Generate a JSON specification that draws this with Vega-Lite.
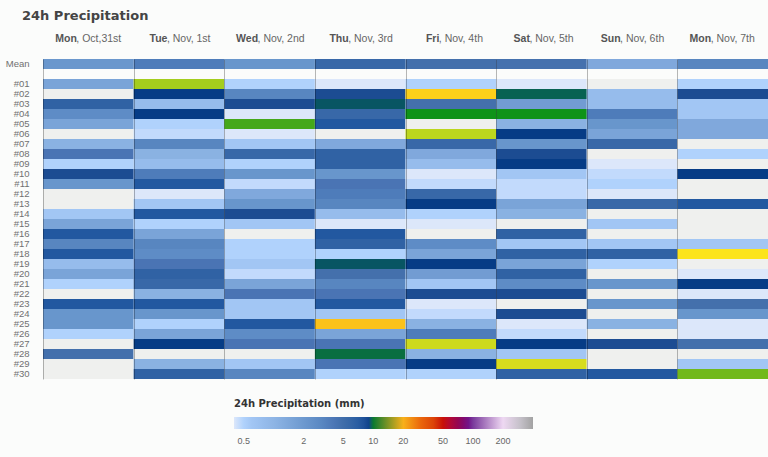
{
"$schema": "https://vega.github.io/schema/vega-lite/v6.json",
"width": 725, "height": 320,
"autosize": {"type": "none"},
"padding": {"left": 43, "top": 59, "right": 0, "bottom": 78},
"background": "#fbfcfb",
"title": {"text": "24h Precipitation", "anchor": "start", "frame": "group", "dx": -21, "font": "DejaVu Sans", "fontSize": 13, "fontWeight": "bold", "color": "#444444", "offset": 10},
"datasets": {"cells": [
{"day":"Mon, Oct,31st","row":"Mean","mm":2.1},{"day":"Tue, Nov, 1st","row":"Mean","mm":3.7},{"day":"Wed, Nov, 2nd","row":"Mean","mm":2.2},{"day":"Thu, Nov, 3rd","row":"Mean","mm":5.5},{"day":"Fri, Nov, 4th","row":"Mean","mm":4.7},{"day":"Sat, Nov, 5th","row":"Mean","mm":4.6},{"day":"Sun, Nov, 6th","row":"Mean","mm":1.3},{"day":"Mon, Nov, 7th","row":"Mean","mm":3.2},
{"day":"Mon, Oct,31st","row":"#01","mm":1.6},{"day":"Tue, Nov, 1st","row":"#01","mm":14.5},{"day":"Wed, Nov, 2nd","row":"#01","mm":0.5},{"day":"Thu, Nov, 3rd","row":"#01","mm":0.4},{"day":"Fri, Nov, 4th","row":"#01","mm":0.5},{"day":"Sat, Nov, 5th","row":"#01","mm":0.4},{"day":"Sun, Nov, 6th","row":"#01","mm":0},{"day":"Mon, Nov, 7th","row":"#01","mm":0.5},
{"day":"Mon, Oct,31st","row":"#02","mm":0},{"day":"Tue, Nov, 1st","row":"#02","mm":9.5},{"day":"Wed, Nov, 2nd","row":"#02","mm":3.2},{"day":"Thu, Nov, 3rd","row":"#02","mm":8.5},{"day":"Fri, Nov, 4th","row":"#02","mm":18.5},{"day":"Sat, Nov, 5th","row":"#02","mm":9.8},{"day":"Sun, Nov, 6th","row":"#02","mm":0.8},{"day":"Mon, Nov, 7th","row":"#02","mm":8.5},
{"day":"Mon, Oct,31st","row":"#03","mm":6.5},{"day":"Tue, Nov, 1st","row":"#03","mm":0.8},{"day":"Wed, Nov, 2nd","row":"#03","mm":8.5},{"day":"Thu, Nov, 3rd","row":"#03","mm":9.7},{"day":"Fri, Nov, 4th","row":"#03","mm":4.7},{"day":"Sat, Nov, 5th","row":"#03","mm":1.8},{"day":"Sun, Nov, 6th","row":"#03","mm":0.8},{"day":"Mon, Nov, 7th","row":"#03","mm":0.6},
{"day":"Mon, Oct,31st","row":"#04","mm":2.7},{"day":"Tue, Nov, 1st","row":"#04","mm":9.5},{"day":"Wed, Nov, 2nd","row":"#04","mm":0.4},{"day":"Thu, Nov, 3rd","row":"#04","mm":5.5},{"day":"Fri, Nov, 4th","row":"#04","mm":11},{"day":"Sat, Nov, 5th","row":"#04","mm":11},{"day":"Sun, Nov, 6th","row":"#04","mm":3.7},{"day":"Mon, Nov, 7th","row":"#04","mm":0.6},
{"day":"Mon, Oct,31st","row":"#05","mm":1.6},{"day":"Tue, Nov, 1st","row":"#05","mm":0.5},{"day":"Wed, Nov, 2nd","row":"#05","mm":12.5},{"day":"Thu, Nov, 3rd","row":"#05","mm":7.5},{"day":"Fri, Nov, 4th","row":"#05","mm":0},{"day":"Sat, Nov, 5th","row":"#05","mm":1.1},{"day":"Sun, Nov, 6th","row":"#05","mm":2.2},{"day":"Mon, Nov, 7th","row":"#05","mm":1.3},
{"day":"Mon, Oct,31st","row":"#06","mm":0},{"day":"Tue, Nov, 1st","row":"#06","mm":0.45},{"day":"Wed, Nov, 2nd","row":"#06","mm":0.4},{"day":"Thu, Nov, 3rd","row":"#06","mm":0},{"day":"Fri, Nov, 4th","row":"#06","mm":15},{"day":"Sat, Nov, 5th","row":"#06","mm":9.5},{"day":"Sun, Nov, 6th","row":"#06","mm":1.6},{"day":"Mon, Nov, 7th","row":"#06","mm":1.3},
{"day":"Mon, Oct,31st","row":"#07","mm":1.1},{"day":"Tue, Nov, 1st","row":"#07","mm":3.2},{"day":"Wed, Nov, 2nd","row":"#07","mm":0.6},{"day":"Thu, Nov, 3rd","row":"#07","mm":1.3},{"day":"Fri, Nov, 4th","row":"#07","mm":5.5},{"day":"Sat, Nov, 5th","row":"#07","mm":2.2},{"day":"Sun, Nov, 6th","row":"#07","mm":5.5},{"day":"Mon, Nov, 7th","row":"#07","mm":0},
{"day":"Mon, Oct,31st","row":"#08","mm":4.2},{"day":"Tue, Nov, 1st","row":"#08","mm":1.1},{"day":"Wed, Nov, 2nd","row":"#08","mm":5.5},{"day":"Thu, Nov, 3rd","row":"#08","mm":6.5},{"day":"Fri, Nov, 4th","row":"#08","mm":1.3},{"day":"Sat, Nov, 5th","row":"#08","mm":8.5},{"day":"Sun, Nov, 6th","row":"#08","mm":0},{"day":"Mon, Nov, 7th","row":"#08","mm":0.5},
{"day":"Mon, Oct,31st","row":"#09","mm":0.5},{"day":"Tue, Nov, 1st","row":"#09","mm":0.8},{"day":"Wed, Nov, 2nd","row":"#09","mm":0.5},{"day":"Thu, Nov, 3rd","row":"#09","mm":6.5},{"day":"Fri, Nov, 4th","row":"#09","mm":0.8},{"day":"Sat, Nov, 5th","row":"#09","mm":9.5},{"day":"Sun, Nov, 6th","row":"#09","mm":0.4},{"day":"Mon, Nov, 7th","row":"#09","mm":0},
{"day":"Mon, Oct,31st","row":"#10","mm":8.5},{"day":"Tue, Nov, 1st","row":"#10","mm":3.7},{"day":"Wed, Nov, 2nd","row":"#10","mm":2.2},{"day":"Thu, Nov, 3rd","row":"#10","mm":2.2},{"day":"Fri, Nov, 4th","row":"#10","mm":0.4},{"day":"Sat, Nov, 5th","row":"#10","mm":0.6},{"day":"Sun, Nov, 6th","row":"#10","mm":0.45},{"day":"Mon, Nov, 7th","row":"#10","mm":9.5},
{"day":"Mon, Oct,31st","row":"#11","mm":2.2},{"day":"Tue, Nov, 1st","row":"#11","mm":7.5},{"day":"Wed, Nov, 2nd","row":"#11","mm":0.45},{"day":"Thu, Nov, 3rd","row":"#11","mm":4.2},{"day":"Fri, Nov, 4th","row":"#11","mm":0.45},{"day":"Sat, Nov, 5th","row":"#11","mm":0.45},{"day":"Sun, Nov, 6th","row":"#11","mm":0.5},{"day":"Mon, Nov, 7th","row":"#11","mm":0},
{"day":"Mon, Oct,31st","row":"#12","mm":0},{"day":"Tue, Nov, 1st","row":"#12","mm":0.4},{"day":"Wed, Nov, 2nd","row":"#12","mm":1.3},{"day":"Thu, Nov, 3rd","row":"#12","mm":3.7},{"day":"Fri, Nov, 4th","row":"#12","mm":5.5},{"day":"Sat, Nov, 5th","row":"#12","mm":0.45},{"day":"Sun, Nov, 6th","row":"#12","mm":0.4},{"day":"Mon, Nov, 7th","row":"#12","mm":0},
{"day":"Mon, Oct,31st","row":"#13","mm":0},{"day":"Tue, Nov, 1st","row":"#13","mm":0.6},{"day":"Wed, Nov, 2nd","row":"#13","mm":2.2},{"day":"Thu, Nov, 3rd","row":"#13","mm":3.2},{"day":"Fri, Nov, 4th","row":"#13","mm":9.5},{"day":"Sat, Nov, 5th","row":"#13","mm":1.6},{"day":"Sun, Nov, 6th","row":"#13","mm":5.5},{"day":"Mon, Nov, 7th","row":"#13","mm":7.5},
{"day":"Mon, Oct,31st","row":"#14","mm":0.6},{"day":"Tue, Nov, 1st","row":"#14","mm":7.5},{"day":"Wed, Nov, 2nd","row":"#14","mm":8.5},{"day":"Thu, Nov, 3rd","row":"#14","mm":0.8},{"day":"Fri, Nov, 4th","row":"#14","mm":0.5},{"day":"Sat, Nov, 5th","row":"#14","mm":1.1},{"day":"Sun, Nov, 6th","row":"#14","mm":0},{"day":"Mon, Nov, 7th","row":"#14","mm":0},
{"day":"Mon, Oct,31st","row":"#15","mm":1.6},{"day":"Tue, Nov, 1st","row":"#15","mm":0.5},{"day":"Wed, Nov, 2nd","row":"#15","mm":0.6},{"day":"Thu, Nov, 3rd","row":"#15","mm":0.4},{"day":"Fri, Nov, 4th","row":"#15","mm":0.4},{"day":"Sat, Nov, 5th","row":"#15","mm":0},{"day":"Sun, Nov, 6th","row":"#15","mm":0.6},{"day":"Mon, Nov, 7th","row":"#15","mm":0},
{"day":"Mon, Oct,31st","row":"#16","mm":7.5},{"day":"Tue, Nov, 1st","row":"#16","mm":1.6},{"day":"Wed, Nov, 2nd","row":"#16","mm":0},{"day":"Thu, Nov, 3rd","row":"#16","mm":7.5},{"day":"Fri, Nov, 4th","row":"#16","mm":0},{"day":"Sat, Nov, 5th","row":"#16","mm":6.5},{"day":"Sun, Nov, 6th","row":"#16","mm":0},{"day":"Mon, Nov, 7th","row":"#16","mm":0},
{"day":"Mon, Oct,31st","row":"#17","mm":3.2},{"day":"Tue, Nov, 1st","row":"#17","mm":3.2},{"day":"Wed, Nov, 2nd","row":"#17","mm":0.5},{"day":"Thu, Nov, 3rd","row":"#17","mm":6.5},{"day":"Fri, Nov, 4th","row":"#17","mm":2.7},{"day":"Sat, Nov, 5th","row":"#17","mm":0.6},{"day":"Sun, Nov, 6th","row":"#17","mm":0.6},{"day":"Mon, Nov, 7th","row":"#17","mm":0.6},
{"day":"Mon, Oct,31st","row":"#18","mm":7.5},{"day":"Tue, Nov, 1st","row":"#18","mm":2.7},{"day":"Wed, Nov, 2nd","row":"#18","mm":0.5},{"day":"Thu, Nov, 3rd","row":"#18","mm":0.5},{"day":"Fri, Nov, 4th","row":"#18","mm":1.6},{"day":"Sat, Nov, 5th","row":"#18","mm":6.5},{"day":"Sun, Nov, 6th","row":"#18","mm":6.5},{"day":"Mon, Nov, 7th","row":"#18","mm":17},
{"day":"Mon, Oct,31st","row":"#19","mm":0.8},{"day":"Tue, Nov, 1st","row":"#19","mm":4.2},{"day":"Wed, Nov, 2nd","row":"#19","mm":0.6},{"day":"Thu, Nov, 3rd","row":"#19","mm":9.7},{"day":"Fri, Nov, 4th","row":"#19","mm":9.5},{"day":"Sat, Nov, 5th","row":"#19","mm":1.6},{"day":"Sun, Nov, 6th","row":"#19","mm":0.5},{"day":"Mon, Nov, 7th","row":"#19","mm":0},
{"day":"Mon, Oct,31st","row":"#20","mm":1.6},{"day":"Tue, Nov, 1st","row":"#20","mm":6.5},{"day":"Wed, Nov, 2nd","row":"#20","mm":0.45},{"day":"Thu, Nov, 3rd","row":"#20","mm":4.7},{"day":"Fri, Nov, 4th","row":"#20","mm":1.8},{"day":"Sat, Nov, 5th","row":"#20","mm":6.5},{"day":"Sun, Nov, 6th","row":"#20","mm":0},{"day":"Mon, Nov, 7th","row":"#20","mm":0.4},
{"day":"Mon, Oct,31st","row":"#21","mm":0.5},{"day":"Tue, Nov, 1st","row":"#21","mm":5.5},{"day":"Wed, Nov, 2nd","row":"#21","mm":1.6},{"day":"Thu, Nov, 3rd","row":"#21","mm":3.2},{"day":"Fri, Nov, 4th","row":"#21","mm":0.6},{"day":"Sat, Nov, 5th","row":"#21","mm":2.7},{"day":"Sun, Nov, 6th","row":"#21","mm":2.2},{"day":"Mon, Nov, 7th","row":"#21","mm":9.5},
{"day":"Mon, Oct,31st","row":"#22","mm":0},{"day":"Tue, Nov, 1st","row":"#22","mm":1.1},{"day":"Wed, Nov, 2nd","row":"#22","mm":4.2},{"day":"Thu, Nov, 3rd","row":"#22","mm":4.2},{"day":"Fri, Nov, 4th","row":"#22","mm":8.5},{"day":"Sat, Nov, 5th","row":"#22","mm":8.5},{"day":"Sun, Nov, 6th","row":"#22","mm":0},{"day":"Mon, Nov, 7th","row":"#22","mm":0.4},
{"day":"Mon, Oct,31st","row":"#23","mm":7.5},{"day":"Tue, Nov, 1st","row":"#23","mm":7.5},{"day":"Wed, Nov, 2nd","row":"#23","mm":0.6},{"day":"Thu, Nov, 3rd","row":"#23","mm":7.5},{"day":"Fri, Nov, 4th","row":"#23","mm":0.4},{"day":"Sat, Nov, 5th","row":"#23","mm":0},{"day":"Sun, Nov, 6th","row":"#23","mm":2.2},{"day":"Mon, Nov, 7th","row":"#23","mm":4.7},
{"day":"Mon, Oct,31st","row":"#24","mm":2.2},{"day":"Tue, Nov, 1st","row":"#24","mm":2.2},{"day":"Wed, Nov, 2nd","row":"#24","mm":0.6},{"day":"Thu, Nov, 3rd","row":"#24","mm":0.6},{"day":"Fri, Nov, 4th","row":"#24","mm":0.45},{"day":"Sat, Nov, 5th","row":"#24","mm":8.5},{"day":"Sun, Nov, 6th","row":"#24","mm":0},{"day":"Mon, Nov, 7th","row":"#24","mm":2.2},
{"day":"Mon, Oct,31st","row":"#25","mm":2.2},{"day":"Tue, Nov, 1st","row":"#25","mm":0.5},{"day":"Wed, Nov, 2nd","row":"#25","mm":7.5},{"day":"Thu, Nov, 3rd","row":"#25","mm":19.3},{"day":"Fri, Nov, 4th","row":"#25","mm":1.1},{"day":"Sat, Nov, 5th","row":"#25","mm":0.4},{"day":"Sun, Nov, 6th","row":"#25","mm":1.1},{"day":"Mon, Nov, 7th","row":"#25","mm":0.4},
{"day":"Mon, Oct,31st","row":"#26","mm":0.5},{"day":"Tue, Nov, 1st","row":"#26","mm":1.6},{"day":"Wed, Nov, 2nd","row":"#26","mm":2.7},{"day":"Thu, Nov, 3rd","row":"#26","mm":1.6},{"day":"Fri, Nov, 4th","row":"#26","mm":3.7},{"day":"Sat, Nov, 5th","row":"#26","mm":0.45},{"day":"Sun, Nov, 6th","row":"#26","mm":0},{"day":"Mon, Nov, 7th","row":"#26","mm":0.4},
{"day":"Mon, Oct,31st","row":"#27","mm":0},{"day":"Tue, Nov, 1st","row":"#27","mm":9.5},{"day":"Wed, Nov, 2nd","row":"#27","mm":4.2},{"day":"Thu, Nov, 3rd","row":"#27","mm":4.2},{"day":"Fri, Nov, 4th","row":"#27","mm":15.5},{"day":"Sat, Nov, 5th","row":"#27","mm":9.5},{"day":"Sun, Nov, 6th","row":"#27","mm":8.5},{"day":"Mon, Nov, 7th","row":"#27","mm":4.7},
{"day":"Mon, Oct,31st","row":"#28","mm":4.7},{"day":"Tue, Nov, 1st","row":"#28","mm":0},{"day":"Wed, Nov, 2nd","row":"#28","mm":0},{"day":"Thu, Nov, 3rd","row":"#28","mm":9.9},{"day":"Fri, Nov, 4th","row":"#28","mm":1.1},{"day":"Sat, Nov, 5th","row":"#28","mm":0.6},{"day":"Sun, Nov, 6th","row":"#28","mm":0},{"day":"Mon, Nov, 7th","row":"#28","mm":0},
{"day":"Mon, Oct,31st","row":"#29","mm":0},{"day":"Tue, Nov, 1st","row":"#29","mm":1.1},{"day":"Wed, Nov, 2nd","row":"#29","mm":0.6},{"day":"Thu, Nov, 3rd","row":"#29","mm":4.2},{"day":"Fri, Nov, 4th","row":"#29","mm":9.5},{"day":"Sat, Nov, 5th","row":"#29","mm":15.8},{"day":"Sun, Nov, 6th","row":"#29","mm":0},{"day":"Mon, Nov, 7th","row":"#29","mm":0.6},
{"day":"Mon, Oct,31st","row":"#30","mm":0},{"day":"Tue, Nov, 1st","row":"#30","mm":6.5},{"day":"Wed, Nov, 2nd","row":"#30","mm":3.2},{"day":"Thu, Nov, 3rd","row":"#30","mm":0.5},{"day":"Fri, Nov, 4th","row":"#30","mm":0.5},{"day":"Sat, Nov, 5th","row":"#30","mm":6.5},{"day":"Sun, Nov, 6th","row":"#30","mm":7.5},{"day":"Mon, Nov, 7th","row":"#30","mm":13.5}
]},
"data": {"name": "cells"},
"layer": [
{
"mark": {"type": "rect"},
"encoding": {
"x": {"field": "day", "type": "nominal",
"sort": ["Mon, Oct,31st","Tue, Nov, 1st","Wed, Nov, 2nd","Thu, Nov, 3rd","Fri, Nov, 4th","Sat, Nov, 5th","Sun, Nov, 6th","Mon, Nov, 7th"],
"scale": {"paddingInner": 0, "paddingOuter": 0},
"axis": {"orient": "top", "title": null, "tickBand": "extent", "grid": true, "gridColor": "#000000", "gridOpacity": 0.28, "ticks": false, "domain": false, "labelAngle": 0,
"labelExpr": "split(datum.label, ',')[0]", "labelFontWeight": "bold", "labelAlign": "right", "labelOffset": -12,
"labelFont": "Liberation Sans", "labelFontSize": 10.5, "labelColor": "#555555", "labelPadding": 16, "zindex": 1}},
"y": {"field": "row", "type": "nominal",
"scale": {"domain": ["Mean"," ","#01","#02","#03","#04","#05","#06","#07","#08","#09","#10","#11","#12","#13","#14","#15","#16","#17","#18","#19","#20","#21","#22","#23","#24","#25","#26","#27","#28","#29","#30"], "paddingInner": 0, "paddingOuter": 0},
"axis": {"title": null, "ticks": false, "domain": false, "labelFont": "Liberation Sans", "labelFontSize": 9.5, "labelColor": "#707070", "labelPadding": 14}},
"color": {
"condition": {"test": "datum.mm === 0", "value": "#eff0ee"},
"field": "mm", "type": "quantitative",
"scale": {"type": "log",
"domain": [0.4,0.45,0.5,0.6,0.8,1.1,1.3,1.6,1.8,2.2,2.7,3.2,3.7,4.2,4.7,5.5,6.5,7.5,8.5,9.5,10,11,13,15,17,19,20,25,30,40,50,60,70,80,90,100,120,150,200,250,300,400],
"range": ["#dce7fa","#c2dafc","#b0d2fc","#a2c6f4","#96bcec","#8ab2e2","#80a8dc","#7aa4d8","#729cd2","#6896cc","#5e8cc6","#5886c0","#4e7cba","#4a74b4","#4470ac","#3868a8","#3062a4","#2258a0","#1c4c92","#063c86","#0a7a30","#0f9318","#56ae1a","#bcd61e","#fce41c","#fcca1a","#f8b01a","#f28010","#ea660c","#dc4408","#c81008","#b00838","#960650","#820a6e","#721488","#7a3a9c","#9454b4","#b080c8","#eed8f2","#ddd4e2","#c4c0c8","#a2a2a2"],
"interpolate": "rgb"},
"legend": {"orient": "none", "legendX": 191, "legendY": 340, "direction": "horizontal",
"title": "24h Precipitation (mm)", "titleFont": "DejaVu Sans", "titleFontSize": 10, "titleFontWeight": "bold", "titleColor": "#333333", "titlePadding": 8,
"gradientLength": 299, "gradientThickness": 12,
"values": [0.5,2,5,10,20,50,100,200], "format": "~g",
"labelFont": "Liberation Sans", "labelFontSize": 9, "labelColor": "#666666", "labelOffset": 8, "labelOverlap": false}
}
}
},
{
"mark": {"type": "rect", "opacity": 0},
"encoding": {
"x": {"field": "day", "type": "nominal",
"sort": ["Mon, Oct,31st","Tue, Nov, 1st","Wed, Nov, 2nd","Thu, Nov, 3rd","Fri, Nov, 4th","Sat, Nov, 5th","Sun, Nov, 6th","Mon, Nov, 7th"],
"axis": {"orient": "top", "title": null, "grid": false, "ticks": false, "domain": false, "labelAngle": 0,
"labelExpr": "substring(datum.label, indexof(datum.label, ','))", "labelAlign": "left", "labelOffset": -12,
"labelFont": "Liberation Sans", "labelFontSize": 10.5, "labelColor": "#666666", "labelPadding": 16}}
}
}
],
"resolve": {"axis": {"x": "independent"}},
"config": {"view": {"stroke": null}}
}
